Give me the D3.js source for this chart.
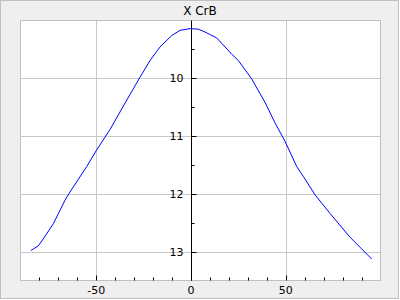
<!DOCTYPE html>
<html>
<head>
<meta charset="utf-8">
<script src="https://cdn.jsdelivr.net/npm/d3@7"></script>
<style>
body { margin: 0; background: #fff; }
svg { display: block; font-family: "DejaVu Sans", sans-serif; }
</style>
</head>
<body>
<div id="svg-container"></div>
<script>
var title = "X CrB";
var xValues = [-84.5, -80.6, -78.0, -72.7, -66.5, -63.9, -55.1, -49.8, -42.8, -35.7, -26.9, -21.6, -16.4, -10.2, -5.8, -0.5, 3.9, 7.4, 13.5, 21.4, 24.9, 32.0, 39.1, 44.3, 49.6, 55.8, 59.3, 65.5, 73.4, 83.9, 95.4];
var yValues = [12.98, 12.90, 12.78, 12.52, 12.11, 11.97, 11.53, 11.24, 10.89, 10.48, 9.98, 9.69, 9.46, 9.26, 9.17, 9.14, 9.15, 9.20, 9.30, 9.58, 9.69, 10.01, 10.42, 10.77, 11.09, 11.53, 11.70, 12.02, 12.34, 12.75, 13.13];
var xMajorTicks = [-50, 0, 50];
var yMajorTicks = [10, 11, 12, 13];

var W = 400, H = 300;
var plotL = 20.5, plotR = 380.5, plotT = 20.5, plotB = 280.5;

function init() {
    var svg = d3.select("#svg-container").append("svg")
        .attr("width", W)
        .attr("height", H);

    // outer frame
    svg.append("rect")
        .attr("x", 0.5).attr("y", 0.5)
        .attr("width", 398).attr("height", 298)
        .attr("fill", "#efefef")
        .attr("stroke", "#c0c0c0");

    svg.append("rect")
        .attr("x", plotL).attr("y", plotT)
        .attr("width", plotR - plotL).attr("height", plotB - plotT)
        .attr("fill", "#fff");

    var x = d3.scaleLinear().domain([-90, 100]).range([plotL, plotR]);
    var y = d3.scaleLinear().domain([9, 13.5]).range([plotT, plotB]);

    // grid
    svg.selectAll(".gx").data(xMajorTicks)
    .enter().append("line")
        .attr("x1", function(d) {return Math.round(x(d)) + 0.5;})
        .attr("x2", function(d) {return Math.round(x(d)) + 0.5;})
        .attr("y1", plotT).attr("y2", plotB)
        .attr("stroke", "#c8c8c8");
    svg.selectAll(".gy").data(yMajorTicks)
    .enter().append("line")
        .attr("y1", function(d) {return Math.round(y(d)) + 0.5;})
        .attr("y2", function(d) {return Math.round(y(d)) + 0.5;})
        .attr("x1", plotL).attr("x2", plotR)
        .attr("stroke", "#c8c8c8");

    // plot border
    svg.append("rect")
        .attr("x", plotL).attr("y", plotT)
        .attr("width", plotR - plotL).attr("height", plotB - plotT)
        .attr("fill", "none")
        .attr("stroke", "#c0c0c0");

    // y axis at x = 0
    var x0 = Math.round(x(0)) + 0.5;
    svg.append("line")
        .attr("x1", x0).attr("x2", x0)
        .attr("y1", plotT).attr("y2", plotB)
        .attr("stroke", "#000");
    var yMinor = d3.range(9.5, 13.5, 1);
    svg.selectAll(".ytm").data(yMajorTicks)
    .enter().append("line")
        .attr("x1", x0).attr("x2", x0 + 5)
        .attr("y1", function(d) {return Math.round(y(d)) + 0.5;})
        .attr("y2", function(d) {return Math.round(y(d)) + 0.5;})
        .attr("stroke", "#000");
    svg.selectAll(".ytn").data(yMinor)
    .enter().append("line")
        .attr("x1", x0).attr("x2", x0 + 3)
        .attr("y1", function(d) {return Math.round(y(d)) + 0.5;})
        .attr("y2", function(d) {return Math.round(y(d)) + 0.5;})
        .attr("stroke", "#000");
    svg.selectAll(".ytl").data(yMajorTicks)
    .enter().append("text")
        .attr("x", x0 - 8)
        .attr("y", function(d) {return y(d) + 4;})
        .attr("text-anchor", "end")
        .attr("font-size", 11)
        .attr("fill", "#000")
        .text(function(d) {return d;});

    // x ticks along bottom
    var xMinor = d3.range(-80, 100, 10).filter(function(d) {return xMajorTicks.indexOf(d) < 0;});
    svg.selectAll(".xtm").data(xMajorTicks)
    .enter().append("line")
        .attr("x1", function(d) {return Math.round(x(d)) + 0.5;})
        .attr("x2", function(d) {return Math.round(x(d)) + 0.5;})
        .attr("y1", plotB - 5).attr("y2", plotB)
        .attr("stroke", "#000");
    svg.selectAll(".xtn").data(xMinor)
    .enter().append("line")
        .attr("x1", function(d) {return Math.round(x(d)) + 0.5;})
        .attr("x2", function(d) {return Math.round(x(d)) + 0.5;})
        .attr("y1", plotB - 3).attr("y2", plotB)
        .attr("stroke", "#000");
    svg.selectAll(".xtl").data(xMajorTicks)
    .enter().append("text")
        .attr("x", function(d) {return x(d);})
        .attr("y", plotB + 13)
        .attr("text-anchor", "middle")
        .attr("font-size", 11)
        .attr("fill", "#000")
        .text(function(d) {return d;});

    // curve
    var line = d3.line()
        .x(function(d) {return x(d[0]);})
        .y(function(d) {return y(d[1]);});
    svg.append("path")
        .datum(d3.zip(xValues, yValues))
        .attr("fill", "none")
        .attr("stroke", "#0000ff")
        .attr("stroke-width", 1)
        .attr("d", line);

    svg.append("text")
        .attr("x", W / 2)
        .attr("y", 15)
        .attr("text-anchor", "middle")
        .attr("font-size", 12)
        .attr("fill", "#000")
        .text(title);
}

init();
</script>
</body>
</html>
